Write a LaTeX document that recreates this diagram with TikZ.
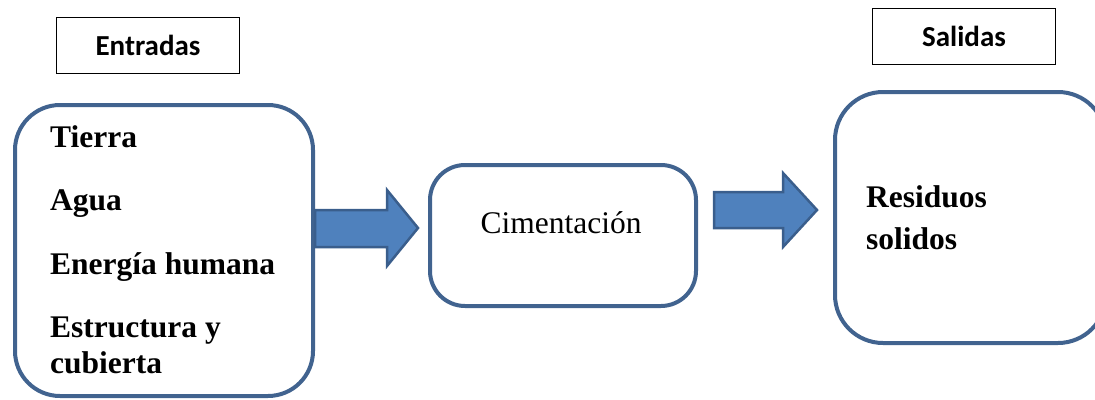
\documentclass[tikz,border=0pt]{standalone}
\usepackage{fontspec}
\setmainfont{Liberation Serif}
\newfontfamily\calib{Carlito}
\begin{document}
\begin{tikzpicture}[x=1pt,y=-1pt,
  bigbox/.style={draw=boxblue,line width=4pt,rounded corners=#1,inner sep=0pt},
  labelbox/.style={draw=black,line width=1.2pt,inner sep=0pt,minimum width=183pt,minimum height=56pt,font=\calib\bfseries\fontsize{29}{34}\selectfont},
  itemtxt/.style={anchor=base west,inner sep=0pt,font=\bfseries\fontsize{31.5}{37}\selectfont},
  blockarrow/.style={fill=arrowfill,draw=arrowline,line width=2.5pt,line join=miter}]
\definecolor{boxblue}{HTML}{41638F}
\definecolor{arrowfill}{HTML}{4F81BD}
\definecolor{arrowline}{HTML}{3A5E8C}
\useasboundingbox (0,0) rectangle (1095,399);
% label boxes
\node[labelbox] (entradas) at (148,45.5) {Entradas};
\node[labelbox] (salidas) at (964,36.5) {Salidas};
% left box
\node[bigbox=45pt,minimum width=298pt,minimum height=291pt] (inbox) at (164,250.5) {};
\node[itemtxt] (t1) at (50,147) {Tierra};
\node[itemtxt] (t2) at (50,210) {Agua};
\node[itemtxt] (t3) at (50,274) {Energía humana};
\node[itemtxt] (t4) at (50,337) {Estructura y};
\node[itemtxt] (t5) at (50,373) {cubierta};
% middle box
\node[bigbox=35pt,minimum width=266pt,minimum height=141pt] (cim) at (563,235.5) {};
\node[anchor=base,inner sep=0pt,font=\fontsize{31.5}{37}\selectfont] (cimtxt) at (561,233) {Cimentación};
% right box
\begin{scope}
\clip (0,0) rectangle (1095,399);
\node[bigbox=48pt,minimum width=271pt,minimum height=251pt] (outbox) at (970.5,217.5) {};
\end{scope}
\node[itemtxt] (r1) at (866,207) {Residuos};
\node[itemtxt] (r2) at (866,249) {solidos};
% block arrows
\draw[blockarrow] (inbox.east |- 0,210) -- (387,210) -- (387,190) -- ([xshift=-10pt]cim.west |- 0,228) -- (387,266) -- (387,247) -- (inbox.east |- 0,247) -- cycle;
\draw[blockarrow] (714,192) -- (783,192) -- (783,173) -- ([xshift=-16pt]outbox.west |- 0,210) -- (783,247) -- (783,228) -- (714,228) -- cycle;
\end{tikzpicture}
\end{document}
